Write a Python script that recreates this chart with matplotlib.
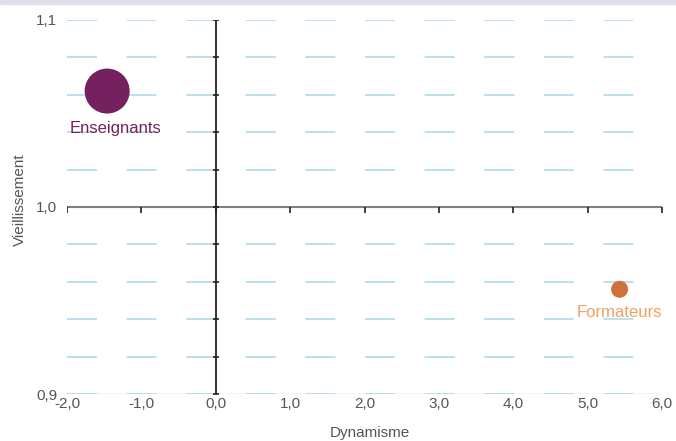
import matplotlib
matplotlib.use("Agg")
import matplotlib.pyplot as plt
from matplotlib.patches import Rectangle
import numpy as np

plt.rcParams['font.family'] = ['Liberation Sans Narrow', 'Liberation Sans', 'DejaVu Sans']

# data
groups = ["Enseignants", "Formateurs"]
dynamisme = [-1.46, 5.43]
vieillissement = [1.062, 0.956]
sizes = [1050, 150]
colors = ["#75215F", "#D2703A"]
label_colors = ["#75215F", "#F0A060"]

x_ticks = [-2, -1, 0, 1, 2, 3, 4, 5, 6]
x_ticklabels = ["-2,0", "-1,0", "0,0", "1,0", "2,0", "3,0", "4,0", "5,0", "6,0"]
y_ticks = [0.9, 1.0, 1.1]
y_ticklabels = ["0,9", "1,0", "1,1"]
y_grid = np.arange(0.9, 1.1001, 0.02)

W, H = 676, 441
fig = plt.figure(figsize=(W / 100, H / 100), dpi=100)
ax = fig.add_axes([67 / W, (H - 394) / H, (662 - 67) / W, (394 - 20) / H])

# cut-off title band at top
fig.patches.append(Rectangle((0, 1 - 4 / H), 1, 4 / H, transform=fig.transFigure,
                             color="#E3DDEC", zorder=0))

ax.set_xlim(-2, 6)
ax.set_ylim(0.9, 1.1)
for s in ax.spines.values():
    s.set_visible(False)

# dashed horizontal grid
px = 72 / 100
lw = 1.3
ax.hlines(y_grid, -2, 6, colors="#B3DEEA", linewidth=lw,
          linestyles=[(0, (30 * px / lw, 29.6 * px / lw))], zorder=1)

# bottom line and crossing axes
ax.axhline(0.9, color="#C8C8C8", linewidth=1, zorder=1.5)
ax.axhline(1.0, color="#808080", linewidth=1.5, zorder=2)
ax.axvline(0, color="#222222", linewidth=1.3, zorder=2)
ax.plot(x_ticks, [1.0] * len(x_ticks), linestyle="none", marker=3,
        markersize=4, color="#222222", markeredgewidth=1.2, zorder=3)
ax.plot([0] * len(y_grid), y_grid, linestyle="none", marker="_",
        markersize=5, color="#222222", markeredgewidth=1.2, zorder=3)

# tick labels
ax.set_xticks(x_ticks)
ax.set_xticklabels(x_ticklabels)
ax.set_yticks(y_ticks)
ax.set_yticklabels(y_ticklabels)
ax.tick_params(length=0, labelsize=11, labelcolor="#555555")
ax.tick_params(axis="x", pad=2)
ax.tick_params(axis="y", pad=7)

# bubbles
for g, x, y, s, c, lc in zip(groups, dynamisme, vieillissement, sizes, colors, label_colors):
    ax.scatter(x, y, s=s, color=c, zorder=4, edgecolors="none")
    off = -37 if s > 500 else -23
    ax.annotate(g, (x, y), xytext=(8 if s > 500 else 0, off), textcoords="offset pixels",
                ha="center", va="center", fontsize=12, color=lc, zorder=5)

fig.text(370 / W, 1 - 433 / H, "Dynamisme", ha="center", va="center",
         fontsize=11, color="#555555")
fig.text(20 / W, 1 - 200 / H, "Vieillissement", ha="center", va="center",
         rotation=90, fontsize=11, color="#555555")

fig.savefig("out.png", dpi=100)
